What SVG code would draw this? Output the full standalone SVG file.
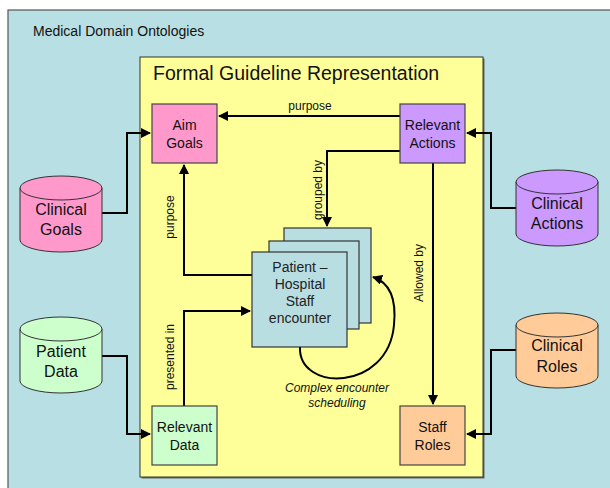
<svg xmlns="http://www.w3.org/2000/svg" width="610" height="488" viewBox="0 0 610 488">
<defs>
<style>
.lbl{font-family:"Comic Sans MS","Liberation Sans",sans-serif;font-size:14px;fill:#111;text-anchor:middle}
.cl{font-family:"Comic Sans MS","Liberation Sans",sans-serif;font-size:16px;fill:#111;text-anchor:middle}
.sm{font-family:"Comic Sans MS","Liberation Sans",sans-serif;font-size:12px;fill:#111;text-anchor:middle}
.box{stroke:#444;stroke-width:1.2}
.card{fill:#B8DEE2;stroke:#333;stroke-width:1.2}
.con{fill:none;stroke:#000;stroke-width:2}
.cyl{stroke:#333;stroke-width:1}
.ar{font-family:"Liberation Sans",Arial,sans-serif;font-size:14px;fill:#222;text-anchor:middle}
</style>
<marker id="ah" viewBox="0 0 10 10" refX="9" refY="5" markerWidth="5" markerHeight="5" orient="auto" markerUnits="strokeWidth">
<path d="M0,0 L10,5 L0,10 z" fill="#000"/>
</marker>
</defs>
<rect x="0" y="0" width="610" height="488" fill="#fff"/>
<g id="outer">
<rect x="8" y="10" width="620" height="500" fill="#B8DFE3" stroke="#555" stroke-width="1.2"/>
<text x="33" y="36" font-family="Comic Sans MS, Liberation Sans, sans-serif" font-size="14" fill="#111">Medical Domain Ontologies</text>
</g>
<g id="guideline">
<rect x="141.5" y="58.5" width="343" height="420" fill="#666"/>
<rect x="140" y="57" width="343" height="420" fill="#FFFF99" stroke="#333" stroke-width="1"/>
<text x="153" y="80" font-family="Comic Sans MS, Liberation Sans, sans-serif" font-size="19.5" fill="#111">Formal Guideline Representation</text>
</g>
<g id="connectors">
<polyline class="con" points="400,116 219,116" marker-end="url(#ah)"/>
<polyline class="con" points="400,151 327,151 327,226" marker-end="url(#ah)"/>
<polyline class="con" points="433,163 433,404" marker-end="url(#ah)"/>
<polyline class="con" points="252,275 184,275 184,165" marker-end="url(#ah)"/>
<polyline class="con" points="184,406 184,311 250,311" marker-end="url(#ah)"/>
<polyline class="con" points="102,213 127,213 127,133 150,133" marker-end="url(#ah)"/>
<polyline class="con" points="102,356 127,356 127,434 150,434" marker-end="url(#ah)"/>
<polyline class="con" points="516,208 491,208 491,133 467,133" marker-end="url(#ah)"/>
<polyline class="con" points="516,350 491,350 491,434 467,434" marker-end="url(#ah)"/>
<path class="con" d="M300,347 C298,392 388,392 394,325 C397,295 388,282 373,277" marker-end="url(#ah)"/>
<text class="sm" x="310" y="110">purpose</text>
<text class="sm" transform="translate(322,190) rotate(-90)">grouped by</text>
<text class="sm" transform="translate(174,217) rotate(-90)">purpose</text>
<text class="sm" transform="translate(174,357) rotate(-90)">presented in</text>
<text class="sm" transform="translate(423,273) rotate(-90)">Allowed by</text>
<text class="sm" x="337" y="392" font-style="italic" font-size="12.5">Complex encounter</text>
<text class="sm" x="337" y="407" font-style="italic" font-size="12.5">scheduling</text>
</g>
<g id="aim-goals">
<rect class="box" x="152" y="104" width="65" height="59" fill="#FF99CC"/>
<text class="lbl" x="184.5" y="130">Aim</text>
<text class="lbl" x="184.5" y="148">Goals</text>
</g>
<g id="relevant-actions">
<rect class="box" x="400" y="104" width="65" height="59" fill="#CC99FF"/>
<text class="lbl" x="432.5" y="130">Relevant</text>
<text class="lbl" x="432.5" y="148">Actions</text>
</g>
<g id="relevant-data">
<rect class="box" x="152" y="406" width="65" height="59" fill="#CCFFCC"/>
<text class="lbl" x="184.5" y="432">Relevant</text>
<text class="lbl" x="184.5" y="450">Data</text>
</g>
<g id="staff-roles">
<rect class="box" x="400" y="406" width="65" height="59" fill="#FFCC99"/>
<text class="lbl" x="432.5" y="432">Staff</text>
<text class="lbl" x="432.5" y="450">Roles</text>
</g>
<g id="encounter">
<rect class="card" x="284" y="228" width="87" height="95"/>
<rect class="card" x="269" y="241" width="90" height="88"/>
<rect class="card" x="252" y="252" width="95" height="95"/>
<text class="ar" x="300" y="272">Patient –</text>
<text class="ar" x="300" y="289">Hospital</text>
<text class="ar" x="300" y="306">Staff</text>
<text class="ar" x="300" y="323">encounter</text>
</g>
<g id="clinical-goals">
<path class="cyl" d="M20,188 L20,240 A41,12 0 0 0 102,240 L102,188 Z" fill="#FF99CC"/>
<ellipse class="cyl" cx="61" cy="188" rx="41" ry="12" fill="#FF99CC"/>
<text class="cl" x="61" y="215">Clinical</text>
<text class="cl" x="61" y="235">Goals</text>
</g>
<g id="patient-data">
<path class="cyl" d="M20,329 L20,381 A41,12 0 0 0 102,381 L102,329 Z" fill="#CCFFCC"/>
<ellipse class="cyl" cx="61" cy="329" rx="41" ry="12" fill="#CCFFCC"/>
<text class="cl" x="61" y="357">Patient</text>
<text class="cl" x="61" y="377">Data</text>
</g>
<g id="clinical-actions">
<path class="cyl" d="M516,182 L516,234 A41,12 0 0 0 598,234 L598,182 Z" fill="#CC99FF"/>
<ellipse class="cyl" cx="557" cy="182" rx="41" ry="12" fill="#CC99FF"/>
<text class="cl" x="557" y="209">Clinical</text>
<text class="cl" x="557" y="229">Actions</text>
</g>
<g id="clinical-roles">
<path class="cyl" d="M516,325 L516,376 A41,12 0 0 0 598,376 L598,325 Z" fill="#FFCC99"/>
<ellipse class="cyl" cx="557" cy="325" rx="41" ry="12" fill="#FFCC99"/>
<text class="cl" x="557" y="351">Clinical</text>
<text class="cl" x="557" y="372">Roles</text>
</g>
</svg>
